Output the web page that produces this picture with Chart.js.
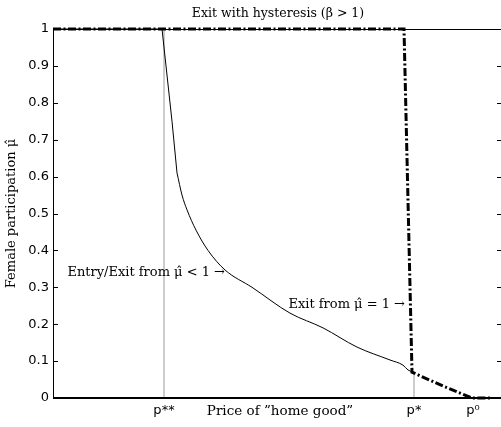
<!DOCTYPE html>
<html lang="en">
  <head>
    <meta charset="UTF-8" />
    <title>Exit with hysteresis</title>
    <script src="https://cdn.jsdelivr.net/npm/chart.js@4.4.1/dist/chart.umd.min.js"></script>
    <style>
      html, body { margin: 0; padding: 0; background: #fff; overflow: hidden; }
      #wrap { width: 506px; height: 427px; }
    </style>
  </head>
  <body>
    <div id="wrap"><canvas id="myChart"></canvas></div>
    <script>
      // price axis, arbitrary units (p** .. p0)
      const priceTicks = [1.11, 3.61, 4.20];
      const priceTickLabels = ["p**", "p*", "p\u2070"];
      const muTicks = [0, 0.1, 0.2, 0.3, 0.4, 0.5, 0.6, 0.7, 0.8, 0.9, 1];

      // thin solid curve: entry/exit from mu < 1 (steep part, then the tail)
      const entrySteepX = [0, 1.09, 1.19, 1.24];
      const entrySteepY = [1, 1, 0.75, 0.61];
      const entryTailX = [1.24, 1.29, 1.34, 1.43, 1.55, 1.72, 1.99, 2.37, 2.70, 3.04, 3.37, 3.50, 3.55, 3.60];
      const entryTailY = [0.61, 0.55, 0.51, 0.455, 0.40, 0.347, 0.30, 0.23, 0.19, 0.138, 0.103, 0.089, 0.076, 0.07];

      // thick dash-dot: exit from mu = 1
      const exitX = [0, 3.51, 3.59, 3.92, 4.19, 4.39];
      const exitY = [1, 1, 0.07, 0.03, 0, 0];

      // thin grey guides at p** and p*
      const guideStarStarX = [1.11, 1.11];
      const guideStarStarY = [0, 1];
      const guideStarX = [3.61, 3.61];
      const guideStarY = [0, 0.07];

      const pts = (xs, ys) => xs.map((x, i) => ({ x: x, y: ys[i] }));

      const serif = "'DejaVu Serif', 'Liberation Serif', serif";
      const sans = "'DejaVu Sans', 'Liberation Sans', sans-serif";

      const boxPlugin = {
        id: "box",
        afterDraw(chart) {
          const { ctx, chartArea: a, scales } = chart;
          ctx.save();
          ctx.strokeStyle = "#000";
          ctx.lineWidth = 1;
          ctx.beginPath();
          ctx.moveTo(a.left + 0.5, a.bottom);
          ctx.lineTo(a.left + 0.5, a.top + 0.5);
          ctx.lineTo(a.right, a.top + 0.5);
          ctx.lineTo(a.right, a.bottom);
          ctx.stroke();
          ctx.lineWidth = 2;
          ctx.beginPath();
          ctx.moveTo(a.left, a.bottom);
          ctx.lineTo(a.right, a.bottom);
          ctx.stroke();
          // inward ticks on both sides
          ctx.lineWidth = 1;
          muTicks.forEach((v) => {
            const y = Math.round(scales.y.getPixelForValue(v)) + 0.5;
            ctx.beginPath();
            ctx.moveTo(a.left, y);
            ctx.lineTo(a.left + 5, y);
            ctx.moveTo(a.right, y);
            ctx.lineTo(a.right - 6, y);
            ctx.stroke();
          });
          // annotations
          ctx.fillStyle = "#000";
          ctx.font = "13px " + serif;
          ctx.textBaseline = "middle";
          ctx.textAlign = "right";
          ctx.fillText("Entry/Exit from \u03BC\u0302 < 1 \u2192", scales.x.getPixelForValue(1.72), scales.y.getPixelForValue(0.341));
          ctx.fillText("Exit from \u03BC\u0302 = 1 \u2192", scales.x.getPixelForValue(3.52), scales.y.getPixelForValue(0.252));
          ctx.textAlign = "center";
          ctx.font = "13.5px " + serif;
          ctx.fillText("Price of \u201Dhome good\u201D", (a.left + a.right) / 2 + 2, 411);
          ctx.restore();
        },
      };

      const ctx = document.getElementById("myChart").getContext("2d");

      let chart = new Chart(ctx, {
        type: "scatter",
        data: {
          datasets: [
            {
              data: pts(guideStarStarX, guideStarStarY),
              showLine: true,
              borderColor: "#9a9a9a",
              borderWidth: 1,
              pointRadius: 0,
              order: 3,
            },
            {
              data: pts(guideStarX, guideStarY),
              showLine: true,
              borderColor: "#9a9a9a",
              borderWidth: 1,
              pointRadius: 0,
              order: 3,
            },
            {
              data: pts(entrySteepX, entrySteepY),
              showLine: true,
              borderColor: "#000",
              borderWidth: 1,
              pointRadius: 0,
              clip: false,
              order: 2,
            },
            {
              data: pts(entryTailX, entryTailY),
              showLine: true,
              borderColor: "#000",
              borderWidth: 1,
              pointRadius: 0,
              cubicInterpolationMode: "monotone",
              clip: false,
              order: 2,
            },
            {
              data: pts(exitX, exitY),
              showLine: true,
              borderColor: "#000",
              borderWidth: 3,
              borderDash: [8, 2.5, 2, 2.5],
              pointRadius: 0,
              clip: false,
              order: 1,
            },
          ],
        },
        options: {
          responsive: true,
          maintainAspectRatio: false,
          animation: false,
          devicePixelRatio: 1,
          layout: { padding: { left: 0, right: 3, top: 0, bottom: 0 } },
          plugins: {
            legend: { display: false },
            tooltip: { enabled: false },
            title: {
              display: true,
              fullSize: false,
              text: "Exit with hysteresis (\u03B2 > 1)",
              color: "#000",
              font: { family: serif, size: 12.5, weight: "normal" },
              padding: { top: 6, bottom: 8 },
            },
          },
          scales: {
            x: {
              type: "linear",
              min: 0,
              max: 4.5,
              grid: { display: false, drawTicks: false },
              border: { display: false },
              afterBuildTicks: (s) => {
                s.ticks = priceTicks.map((v) => ({ value: v }));
              },
              afterFit: (s) => {
                s.height = 29;
              },
              ticks: {
                color: "#000",
                padding: 5,
                maxRotation: 0,
                autoSkip: false,
                font: { family: sans, size: 13 },
                callback: (v, i) => priceTickLabels[i],
              },
            },
            y: {
              type: "linear",
              min: 0,
              max: 1,
              grid: { display: false, drawTicks: false },
              border: { display: false },
              afterBuildTicks: (s) => {
                s.ticks = muTicks.map((v) => ({ value: v }));
              },
              afterFit: (s) => {
                s.width = 53;
              },
              title: {
                display: true,
                text: "Female participation \u03BC\u0302",
                color: "#000",
                font: { family: serif, size: 13 },
                padding: { top: 4, bottom: 0 },
              },
              ticks: {
                color: "#000",
                padding: 4,
                autoSkip: false,
                font: { family: sans, size: 13 },
                callback: (v) => String(Math.round(v * 10) / 10),
              },
            },
          },
        },
        plugins: [boxPlugin],
      });
    </script>
  </body>
</html>
